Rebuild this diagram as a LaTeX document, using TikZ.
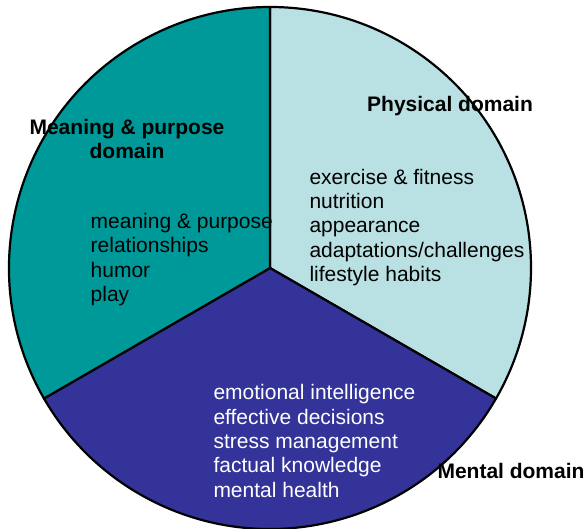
\documentclass[tikz,border=0pt]{standalone}
\usepackage{fontspec}
\setmainfont{Liberation Sans}
\definecolor{physcol}{RGB}{185,224,226}
\definecolor{mentcol}{RGB}{51,51,153}
\definecolor{meancol}{RGB}{0,153,153}
\begin{document}
\begin{tikzpicture}[x=1pt,y=1pt,
  sector/.style={draw=black,line width=2.2pt,line join=round},
  listtext/.style={inner sep=0pt,anchor=base west,align=left,font=\fontsize{21}{24.4}\selectfont},
  titletext/.style={inner sep=0pt,font=\fontsize{21}{23.3}\selectfont\bfseries}]
\useasboundingbox (0,0) rectangle (588,529);
\coordinate (c) at (270,261);
\filldraw[sector,fill=physcol] (c) -- ++(90:261) arc[start angle=90,end angle=-30,radius=261] -- cycle;
\filldraw[sector,fill=mentcol] (c) -- ++(-30:261) arc[start angle=-30,end angle=-150,radius=261] -- cycle;
\filldraw[sector,fill=meancol] (c) -- ++(210:261) arc[start angle=210,end angle=90,radius=261] -- cycle;
\node[titletext,anchor=base west] (phystitle) at (367,417.3) {Physical domain};
\node[titletext,anchor=base,align=center] (meantitle) at (127,370.7) {Meaning \& purpose\\domain};
\node[titletext,anchor=base west] (menttitle) at (437.3,50.7) {Mental domain};
\node[listtext] (meanlist) at (90.5,227.5) {meaning \& purpose\\relationships\\humor\\play};
\node[listtext] (physlist) at (309.3,247.3) {exercise \& fitness\\nutrition\\appearance\\adaptations/challenges\\lifestyle habits};
\node[listtext,text=white] (mentlist) at (213.3,31.7) {emotional intelligence\\effective decisions\\stress management\\factual knowledge\\mental health};
\end{tikzpicture}
\end{document}
